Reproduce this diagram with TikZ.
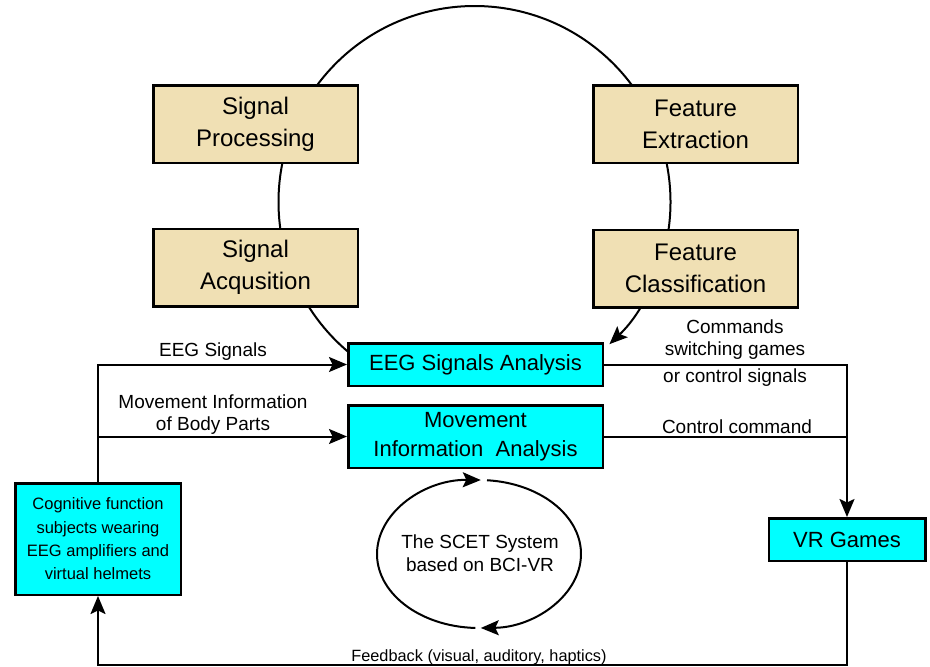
\documentclass[tikz,border=0pt]{standalone}
\usepackage{fontspec}
\setmainfont{Liberation Sans}
\usetikzlibrary{arrows.meta}
\definecolor{tanfill}{RGB}{240,224,180}
\definecolor{cyanfill}{RGB}{0,255,255}
\begin{document}
\begin{tikzpicture}[x=1pt,y=-1pt,
  tanbox/.style={draw, line width=2.5pt, fill=tanfill, inner sep=0pt,
    minimum width=204.5pt, minimum height=77.5pt, align=center,
    font=\fontsize{24}{32}\selectfont},
  cbox/.style={draw, line width=2.5pt, fill=cyanfill, inner sep=0pt,
    align=center, font=\fontsize{22}{29}\selectfont},
  arr/.style={-{Stealth[length=18pt,width=15pt,inset=3.5pt]}, line width=2pt},
  plain/.style={line width=2pt},
  lbl/.style={font=\fontsize{19}{22}\selectfont, align=center, inner sep=0pt}]
\useasboundingbox (0,0) rectangle (930,667);

% big loop behind the tan boxes
\draw[arr] (474.5,202) ++(130:196) arc[start angle=130, end angle=406.5, radius=196];

% tan boxes
\node[tanbox] (sp) at (255.5,124) {Signal\\Processing};
\node[tanbox] (sa) at (255.5,267.5) {Signal\\Acqusition};
\node[tanbox] (fe) at (695.5,124) {Feature\\Extraction};
\node[tanbox] (fc) at (695.5,268.5) {Feature\\Classification};

% cyan boxes
\node[cbox, minimum width=254.5pt, minimum height=42.5pt] (eeg) at (475.5,364.5) {EEG Signals Analysis};
\node[cbox, minimum width=254.5pt, minimum height=62.5pt] (mia) at (475.5,436.5) {Movement\\Information\ \ Analysis};
\node[cbox, minimum width=165.5pt, minimum height=111.5pt, font=\fontsize{16.5}{23.3}\selectfont] (cog) at (98,539)
  {Cognitive function\\subjects wearing\\EEG amplifiers and\\virtual helmets};
\node[cbox, minimum width=156.5pt, minimum height=42.5pt] (vr) at (847,539.5) {VR Games};

% connectors
\draw[arr] (cog.north) |- (eeg.west);
\draw[arr] (cog.north |- mia.west) -- (mia.west);
\draw[arr] (eeg.east) -| (vr.north);
\draw[plain] (mia.east) -- (mia.east -| vr.north);
\coordinate (fbR) at (847,665);
\coordinate (fbL) at (98,665);
\draw[arr] (vr.south) -- (fbR) -- (fbL) -- (cog.south);

% labels
\node[lbl] (l1) at (213,352) {EEG Signals};
\node[lbl] (l2) at (213,415) {Movement Information\\of Body Parts};
\node[lbl] (l3) at (735,340) {Commands\\switching games};
\node[lbl] (l4) at (735,378) {or control signals};
\node[lbl] (l5) at (737,427) {Control command};
\node[lbl, font=\fontsize{16.3}{20}\selectfont] (l6) at (479,657) {Feedback (visual, auditory, haptics)};

% SCET loop
\node[lbl, font=\fontsize{19}{23}\selectfont] (scet) at (480,553.5) {The SCET System\\based on BCI-VR};
\draw[arr] (479,554) ++(92:102 and 74) arc[start angle=92, end angle=271, x radius=102, y radius=74];
\draw[arr] (479,554) ++(274.5:102 and 74) arc[start angle=274.5, end angle=449, x radius=102, y radius=74];
\end{tikzpicture}
\end{document}
